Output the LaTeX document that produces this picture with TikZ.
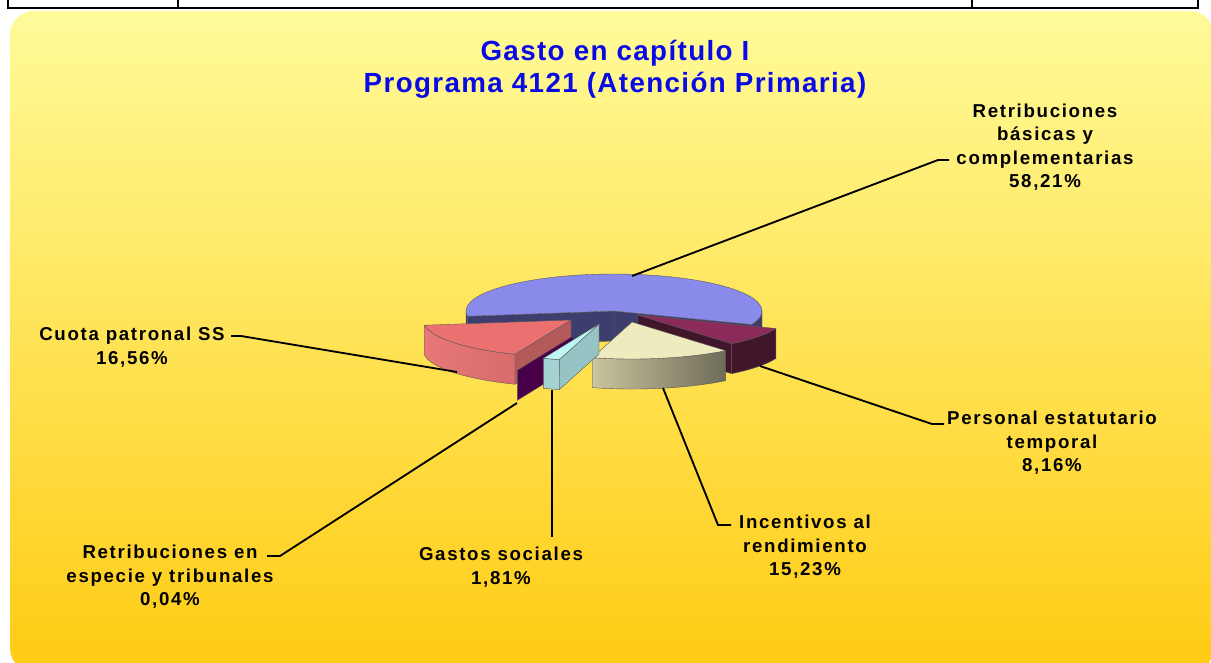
\documentclass[tikz,border=0pt]{standalone}
\usepackage{fontspec}
\newfontfamily\chartfont[LetterSpace=9]{Liberation Sans}
\newfontfamily\titlefont[LetterSpace=5]{Liberation Sans}

\definecolor{bgtop}{HTML}{FFFB9A}
\definecolor{bgmid}{HTML}{FFE45C}
\definecolor{bgbot}{HTML}{FFCB12}
\definecolor{titleblue}{HTML}{0A0AE6}
\definecolor{bluetop}{HTML}{8A8AEB}
\definecolor{bluedark}{HTML}{3E3E6E}
\definecolor{maroontop}{HTML}{8C2A5A}
\definecolor{maroondark}{HTML}{41162A}
\definecolor{creamtop}{HTML}{EEEBBE}
\definecolor{creamleft}{HTML}{C9C59D}
\definecolor{creamright}{HTML}{6E6C58}
\definecolor{cyantop}{HTML}{BEF5F5}
\definecolor{cyanfront}{HTML}{A5D2D2}
\definecolor{cyanside}{HTML}{96C3C3}
\definecolor{purpleface}{HTML}{480048}
\definecolor{salmontop}{HTML}{EB7070}
\definecolor{salmonleft}{HTML}{E87878}
\definecolor{salmonright}{HTML}{CD6262}
\definecolor{salmonside}{HTML}{B45A5A}

\tikzset{
  lbl/.style={font=\chartfont\bfseries\fontsize{14}{17.6}\selectfont, align=center, inner sep=0pt},
  ttl/.style={font=\titlefont\bfseries\fontsize{20.8}{24}\selectfont, align=center, inner sep=0pt, text=titleblue},
  leader/.style={line width=1.4pt},
  pierad/.style={x radius=148, y radius=37},
  rim/.style={draw=black!65, line width=0.3pt},
}

\begin{document}
\begin{tikzpicture}[x=0.75pt, y=-0.75pt]
\useasboundingbox (0,0) rectangle (1211,662);
\fill[white] (0,0) rectangle (1211,662);
% edge of the table above
\draw[line width=1.5pt] (8,0) -- (8,7.5) -- (1198,7.5) -- (1198,0);
\draw[line width=1.5pt] (178,0) -- (178,7.5) (972,0) -- (972,7.5);
% chart area
\shade[top color=bgtop, middle color=bgmid, bottom color=bgbot, rounded corners=18] (10,11) rectangle (1214,672);

\node[ttl] (title) at (615,69) {Gasto en capítulo I\\Programa 4121 (Atención Primaria)};

% apex of each slice
\coordinate (aBlue) at (614,311);
\coordinate (aMaroon) at (638,315);
\coordinate (aSalmon) at (571,320);
\coordinate (aPurple) at (573,336);
\coordinate (aCream) at (632,322);
\coordinate (aCyan) at (599,324);

% retribuciones basicas
\path[fill=bluedark, rim] (aBlue) -- ++(21.36:148 and 37) -- ++(0,30) -- ++(201.36:148 and 37) -- cycle;
\path[fill=bluedark, rim] (aBlue) -- ++(171.85:148 and 37) -- ++(0,30) -- ++(351.85:148 and 37) -- cycle;
\path[fill=bluedark, rim] (aBlue) ++(0:148 and 37) arc[start angle=0, end angle=21.36, pierad] -- ++(0,30) arc[start angle=21.36, end angle=0, pierad] -- cycle;
\path[fill=bluedark, rim] (aBlue) ++(171.85:148 and 37) arc[start angle=171.85, end angle=180, pierad] -- ++(0,30) arc[start angle=180, end angle=171.85, pierad] -- cycle;
\path[fill=bluetop, rim] (aBlue) -- ++(-188.15:148 and 37) arc[start angle=-188.15, end angle=21.36, pierad] -- cycle;

% personal estatutario
\path[fill=maroondark, rim] (aMaroon) -- ++(50.74:148 and 37) -- ++(0,30) -- ++(230.74:148 and 37) -- cycle;
\path[fill=maroondark, rim] (aMaroon) ++(21.36:148 and 37) arc[start angle=21.36, end angle=50.74, pierad] -- ++(0,30) arc[start angle=50.74, end angle=21.36, pierad] -- cycle;
\path[fill=maroontop, rim] (aMaroon) -- ++(21.36:148 and 37) arc[start angle=21.36, end angle=50.74, pierad] -- cycle;

% cuota patronal
\path[fill=salmonside, rim] (aSalmon) -- ++(112.23:148 and 37) -- ++(0,30) -- ++(292.23:148 and 37) -- cycle;
\path[left color=salmonleft, right color=salmonright, rim] (aSalmon) ++(112.23:148 and 37) arc[start angle=112.23, end angle=171.85, pierad] -- ++(0,30) arc[start angle=171.85, end angle=112.23, pierad] -- cycle;
\path[fill=salmontop, rim] (aSalmon) -- ++(112.23:148 and 37) arc[start angle=112.23, end angle=171.85, pierad] -- cycle;

% retribuciones en especie
\path[fill=purpleface, rim] (aPurple) -- ++(112.09:148 and 37) -- ++(0,30) -- ++(292.09:148 and 37) -- cycle;

% incentivos
\path[left color=creamleft, right color=creamright, rim] (aCream) ++(50.74:148 and 37) arc[start angle=50.74, end angle=105.57, pierad] -- ++(0,30) arc[start angle=105.57, end angle=50.74, pierad] -- cycle;
\path[fill=creamtop, rim] (aCream) -- ++(50.74:148 and 37) arc[start angle=50.74, end angle=105.57, pierad] -- cycle;

% gastos sociales
\path[fill=cyanside, rim] (aCyan) -- ++(105.57:148 and 37) -- ++(0,30) -- ++(285.57:148 and 37) -- cycle;
\path[fill=cyanfront, rim] (aCyan) ++(105.57:148 and 37) arc[start angle=105.57, end angle=112.09, pierad] -- ++(0,30) arc[start angle=112.09, end angle=105.57, pierad] -- cycle;
\path[fill=cyantop, rim] (aCyan) -- ++(105.57:148 and 37) arc[start angle=105.57, end angle=112.09, pierad] -- cycle;

% labels
\node[lbl] (lBlue) at (1045,147) {Retribuciones\\básicas y\\complementarias\\58,21\%};
\node[lbl] (lSalmon) at (132,347) {Cuota patronal SS\\16,56\%};
\node[lbl] (lMaroon) at (1052,443) {Personal estatutario\\temporal\\8,16\%};
\node[lbl] (lCream) at (805,547) {Incentivos al\\rendimiento\\15,23\%};
\node[lbl] (lCyan) at (501,567) {Gastos sociales\\1,81\%};
\node[lbl] (lPurple) at (170,577) {Retribuciones en\\especie y tribunales\\0,04\%};

% leader lines
\coordinate (pBlue) at (632,276);
\coordinate (kBlue) at (938,160);
\coordinate (tBlue) at (949,160);
\coordinate (pSalmon) at (457,372);
\coordinate (kSalmon) at (241,336);
\coordinate (tSalmon) at (231,336);
\coordinate (pMaroon) at (760,366);
\coordinate (kMaroon) at (932,424);
\coordinate (tMaroon) at (944,424);
\coordinate (pCream) at (663,388);
\coordinate (kCream) at (718,525);
\coordinate (tCream) at (731,525);
\coordinate (pCyan) at (552,390);
\coordinate (tCyan) at (552,537);
\coordinate (pPurple) at (517,403);
\coordinate (kPurple) at (280,556);
\coordinate (tPurple) at (267,556);
\draw[leader] (pBlue) -- (kBlue) -- (tBlue);
\draw[leader] (pSalmon) -- (kSalmon) -- (tSalmon);
\draw[leader] (pMaroon) -- (kMaroon) -- (tMaroon);
\draw[leader] (pCream) -- (kCream) -- (tCream);
\draw[leader] (pCyan) -- (tCyan);
\draw[leader] (pPurple) -- (kPurple) -- (tPurple);
\end{tikzpicture}
\end{document}
